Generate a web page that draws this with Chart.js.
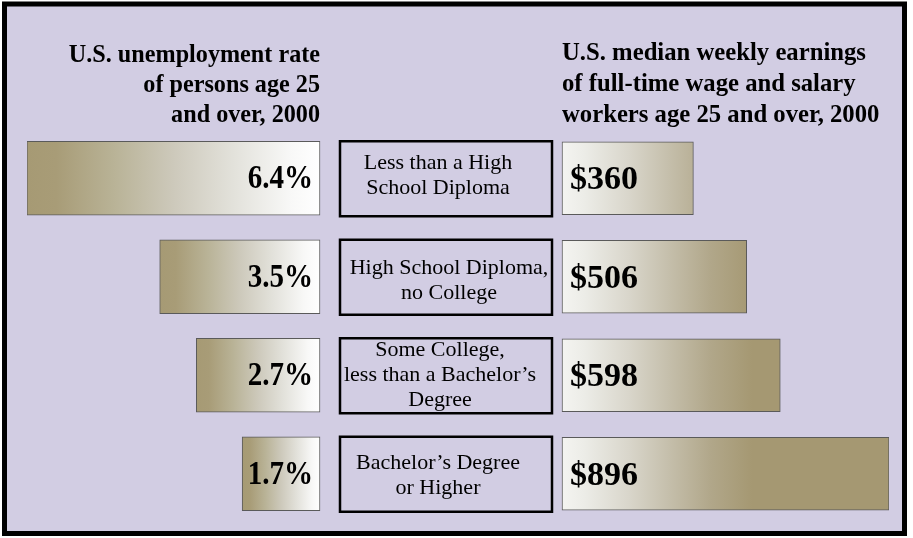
<!DOCTYPE html>
<html>
<head>
<meta charset="utf-8">
<script src="https://cdn.jsdelivr.net/npm/chart.js@4.4.1/dist/chart.umd.min.js"></script>
<style>
  html, body { margin: 0; padding: 0; background: #ffffff; }
  #wrap { position: relative; width: 913px; height: 538px; }
  canvas { display: block; }
</style>
</head>
<body>
<div id="wrap"><canvas id="c" width="913" height="538"></canvas></div>
<script>
// ---- data ----
const categories = [
  ['Less than a High', 'School Diploma'],
  ['High School Diploma,', 'no College'],
  ['Some College,', 'less than a Bachelor\u2019s', 'Degree'],
  ['Bachelor\u2019s Degree', 'or Higher']
];
const unemploymentRate = [6.4, 3.5, 2.7, 1.7];
const weeklyEarnings = [360, 506, 598, 896];
const leftTitle = ['U.S. unemployment rate', 'of persons age 25', 'and over, 2000'];
const rightTitle = ['U.S. median weekly earnings', 'of full-time wage and salary', 'workers age 25 and over, 2000'];

// ---- layout / style constants ----
const W = 913, H = 538;
const AREA_LEFT = 27, AREA_RIGHT = 889, AREA_TOP = 129, AREA_BOTTOM = 523;
const LEFT_ZERO_X = 320, LEFT_PX_PER_UNIT = 45.8;
const RIGHT_ZERO_X = 562, RIGHT_PX_PER_UNIT = 0.365;
const AREA_W = AREA_RIGHT - AREA_LEFT;
const leftMax = (LEFT_ZERO_X - AREA_LEFT) / LEFT_PX_PER_UNIT;
const leftMin = leftMax - AREA_W / LEFT_PX_PER_UNIT;
const rightMin = -(RIGHT_ZERO_X - AREA_LEFT) / RIGHT_PX_PER_UNIT;
const rightMax = rightMin + AREA_W / RIGHT_PX_PER_UNIT;
// small per-box text nudges (dx, dy) to follow the original typesetting
const BOX_TEXT_NUDGE = [[-8, -3], [3, 3], [-6, -1], [-8, 1]];

const BG = '#d2cde3';
const SERIF = '"Liberation Serif", "Times New Roman", serif';

function leftGradient(ctx) {
  const chart = ctx.chart;
  if (!chart.chartArea || ctx.raw == null) return '#bdb59c';
  const s = chart.scales.xL;
  const x0 = s.getPixelForValue(ctx.raw), x1 = s.getPixelForValue(0);
  const g = chart.ctx.createLinearGradient(x0, 0, x1, 0);
  g.addColorStop(0, '#a69a74');
  g.addColorStop(0.1, '#a89c77');
  g.addColorStop(0.3, '#b9b397');
  g.addColorStop(0.5, '#cdc9bb');
  g.addColorStop(0.7, '#e2e1da');
  g.addColorStop(0.9, '#f8f8f7');
  g.addColorStop(1, '#ffffff');
  return g;
}
function rightGradient(ctx) {
  const chart = ctx.chart;
  if (!chart.chartArea) return '#d8d4c9';
  const s = chart.scales.xR;
  const x0 = s.getPixelForValue(0);
  const g = chart.ctx.createLinearGradient(x0, 0, x0 + 190, 0);
  g.addColorStop(0, '#f4f4f1');
  g.addColorStop(0.12, '#ecece7');
  g.addColorStop(0.35, '#d9d6cb');
  g.addColorStop(0.55, '#c6c0ad');
  g.addColorStop(0.78, '#b1a78a');
  g.addColorStop(1, '#a59872');
  return g;
}

function drawScaled(c, text, x, y, align, sx) {
  c.save();
  c.translate(x, y);
  c.scale(sx, 1);
  c.textAlign = align;
  c.fillText(text, 0, 0);
  c.restore();
}

const framePlugin = {
  id: 'frame',
  beforeDraw(chart) {
    const c = chart.ctx;
    c.save();
    c.fillStyle = '#ffffff';
    c.fillRect(0, 0, W, H);
    c.fillStyle = BG;
    c.fillRect(4, 4, 901, 530);
    c.strokeStyle = '#000000';
    c.lineWidth = 5;
    c.strokeRect(4.5, 4, 900, 529.5);
    c.restore();
  }
};

const textPlugin = {
  id: 'texts',
  afterDatasetsDraw(chart) {
    const c = chart.ctx;
    const yS = chart.scales.y;
    c.save();
    // titles
    c.fillStyle = '#000';
    c.font = 'bold 26px ' + SERIF;
    c.textBaseline = 'alphabetic';
    leftTitle.forEach((t, i) => drawScaled(c, t, LEFT_ZERO_X, 62 + i * 30, 'right', 0.93));
    rightTitle.forEach((t, i) => drawScaled(c, t, RIGHT_ZERO_X, 60 + i * 31, 'left', 0.95));

    // category boxes
    categories.forEach((lines, i) => {
      const yc = yS.getPixelForValue(i) + 0.5;
      c.fillStyle = BG;
      c.fillRect(339, yc - 38, 214, 76);
      c.strokeStyle = '#000';
      c.lineWidth = 2.5;
      c.strokeRect(340, yc - 37.5, 212, 75);
      c.fillStyle = '#000';
      c.font = '22px ' + SERIF;
      c.textAlign = 'center';
      c.textBaseline = 'middle';
      const lh = 25;
      const [dx, dy] = BOX_TEXT_NUDGE[i];
      const start = yc + dy - (lines.length - 1) * lh / 2;
      lines.forEach((t, k) => c.fillText(t, 446 + dx, start + k * lh));
    });

    // value labels
    c.font = 'bold 33px ' + SERIF;
    c.textBaseline = 'alphabetic';
    c.fillStyle = '#000';
    const mL = chart.getDatasetMeta(0);
    mL.data.forEach((el, i) => {
      drawScaled(c, unemploymentRate[i].toFixed(1) + '%', el.base - 7, el.y + 10, 'right', 0.88);
    });
    const mR = chart.getDatasetMeta(1);
    mR.data.forEach((el, i) => {
      drawScaled(c, '$' + weeklyEarnings[i], el.base + 8, el.y + 11, 'left', 1.03);
    });
    c.restore();
  }
};

new Chart(document.getElementById('c'), {
  type: 'bar',
  data: {
    labels: categories,
    datasets: [
      {
        label: 'Unemployment rate',
        data: unemploymentRate,
        xAxisID: 'xL',
        grouped: false,
        barThickness: 74,
        backgroundColor: leftGradient,
        borderColor: '#5a5a5a',
        borderWidth: 1,
        borderSkipped: false
      },
      {
        label: 'Median weekly earnings',
        data: weeklyEarnings,
        xAxisID: 'xR',
        grouped: false,
        barThickness: 73,
        backgroundColor: rightGradient,
        borderColor: '#5a5a5a',
        borderWidth: 1,
        borderSkipped: false
      }
    ]
  },
  options: {
    indexAxis: 'y',
    responsive: false,
    animation: false,
    layout: {
      padding: { left: AREA_LEFT, right: W - AREA_RIGHT, top: AREA_TOP, bottom: H - AREA_BOTTOM }
    },
    scales: {
      y: { type: 'category', display: false, offset: true },
      xL: { type: 'linear', position: 'bottom', display: false, reverse: true, min: leftMin, max: leftMax },
      xR: { type: 'linear', position: 'top', display: false, min: rightMin, max: rightMax }
    },
    plugins: {
      legend: { display: false },
      tooltip: { enabled: false },
      title: { display: false }
    }
  },
  plugins: [framePlugin, textPlugin]
});
</script>
</body>
</html>
